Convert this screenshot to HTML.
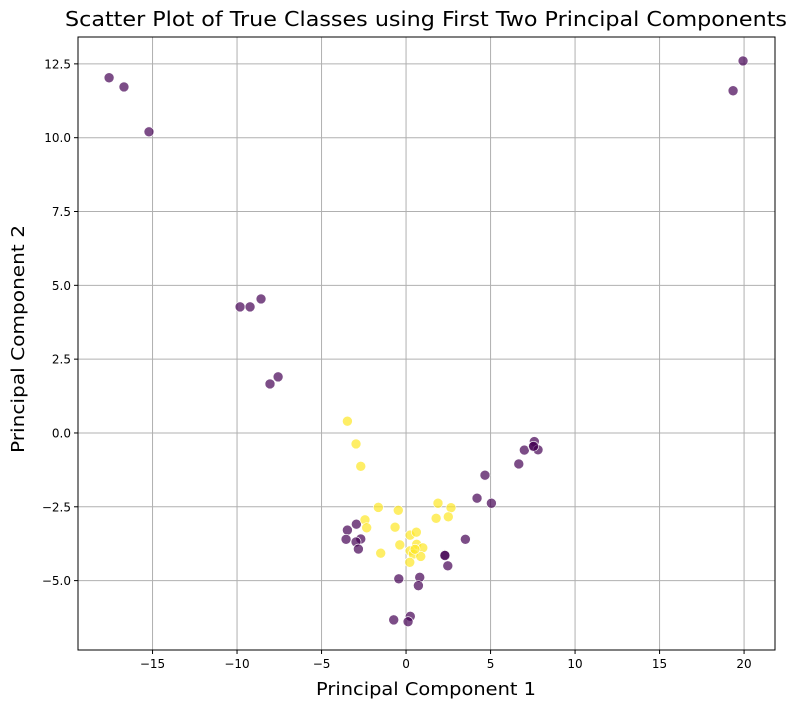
<!DOCTYPE html>
<html><head><meta charset="utf-8"><style>
body{margin:0;background:#fff;font-family:"DejaVu Sans",sans-serif}
</style></head><body>
<svg id="c" width="798" height="708" xmlns="http://www.w3.org/2000/svg" font-family="DejaVu Sans, sans-serif"></svg>
<script>
const xTicks=[-15,-10,-5,0,5,10,15,20];
const yTicks=[-5.0,-2.5,0.0,2.5,5.0,7.5,10.0,12.5];
const class0X=[-17.57,-16.69,-15.21,-9.82,-9.23,-8.58,-8.05,-7.57,19.94,19.35,-3.47,-2.94,-3.55,-2.68,-2.96,-2.82,-0.43,0.81,0.73,-0.73,0.25,0.12,2.29,2.3,2.47,3.51,4.20,5.05,4.67,6.67,7.00,7.59,7.51,7.81,7.55];
const class0Y=[12.03,11.72,10.20,4.27,4.27,4.54,1.66,1.90,12.60,11.59,-3.29,-3.09,-3.60,-3.59,-3.69,-3.93,-4.94,-4.89,-5.17,-6.33,-6.21,-6.39,-4.13,-4.15,-4.50,-3.60,-2.21,-2.38,-1.43,-1.05,-0.58,-0.29,-0.46,-0.57,-0.45];
const class1X=[-3.47,-2.96,-2.68,-1.64,-0.46,-2.43,-2.33,-0.65,-0.37,-1.50,0.24,0.61,0.63,0.99,0.24,0.43,0.87,0.22,0.53,1.89,2.66,1.78,2.50];
const class1Y=[0.40,-0.37,-1.13,-2.52,-2.62,-2.94,-3.21,-3.19,-3.79,-4.07,-3.46,-3.36,-3.77,-3.89,-3.99,-4.10,-4.18,-4.38,-3.94,-2.38,-2.53,-2.89,-2.84];
const L=78,R=775,T=37,B=650,xmin=-19.41,xmax=21.83,ymin=-7.35,ymax=13.41;
const sx=v=>L+(v-xmin)/(xmax-xmin)*(R-L);
const sy=v=>B-(v-ymin)/(ymax-ymin)*(B-T);
const fmt=s=>s.replace('-','\u2212');
const svg=document.getElementById('c');const NS='http://www.w3.org/2000/svg';
function mk(t,a,p){const e=document.createElementNS(NS,t);for(const k in a)e.setAttribute(k,a[k]);(p||svg).appendChild(e);return e;}
xTicks.forEach(v=>{const x=sx(v);
const g=mk('line',{x1:x,x2:x,y1:T,y2:B,stroke:'#b0b0b0','stroke-width':1});


mk('line',{x1:x,x2:x,y1:B,y2:B+4,stroke:'#000'});
const t=mk('text',{x:x,y:B+18,'text-anchor':'middle','font-size':12});t.textContent=fmt(String(v));

});
yTicks.forEach(v=>{const y=sy(v);
const g=mk('line',{x1:L,x2:R,y1:y,y2:y,stroke:'#b0b0b0','stroke-width':1});


mk('line',{x1:L-4,x2:L,y1:y,y2:y,stroke:'#000'});
const t=mk('text',{x:L-7,y:y+4.5,'text-anchor':'end','font-size':12});t.textContent=fmt(v.toFixed(1));

});
function pts(X,Y,col,name){X.forEach((v,i)=>{const c=mk('circle',{cx:sx(v),cy:sy(Y[i]),r:5,fill:col,'fill-opacity':0.7,stroke:'#fff','stroke-width':0.6});

});}
pts(class0X,class0Y,'#440154','point-class-0');
pts(class1X,class1Y,'#fde725','point-class-1');
const f=mk('rect',{x:L,y:T,width:R-L,height:B-T,fill:'none',stroke:'#000','stroke-width':1});


</script>
<svg width="798" height="708" style="position:absolute;left:0;top:0" font-family="DejaVu Sans, sans-serif">
<text x="426" y="26" text-anchor="middle" font-size="20" textLength="722" lengthAdjust="spacingAndGlyphs">Scatter Plot of True Classes using First Two Principal Components</text>
<text x="426" y="695" text-anchor="middle" font-size="18" textLength="220" lengthAdjust="spacingAndGlyphs">Principal Component 1</text>
<text x="0" y="0" transform="translate(24,339) rotate(-90)" text-anchor="middle" font-size="18" textLength="228" lengthAdjust="spacingAndGlyphs">Principal Component 2</text>
</svg>
</body></html>
